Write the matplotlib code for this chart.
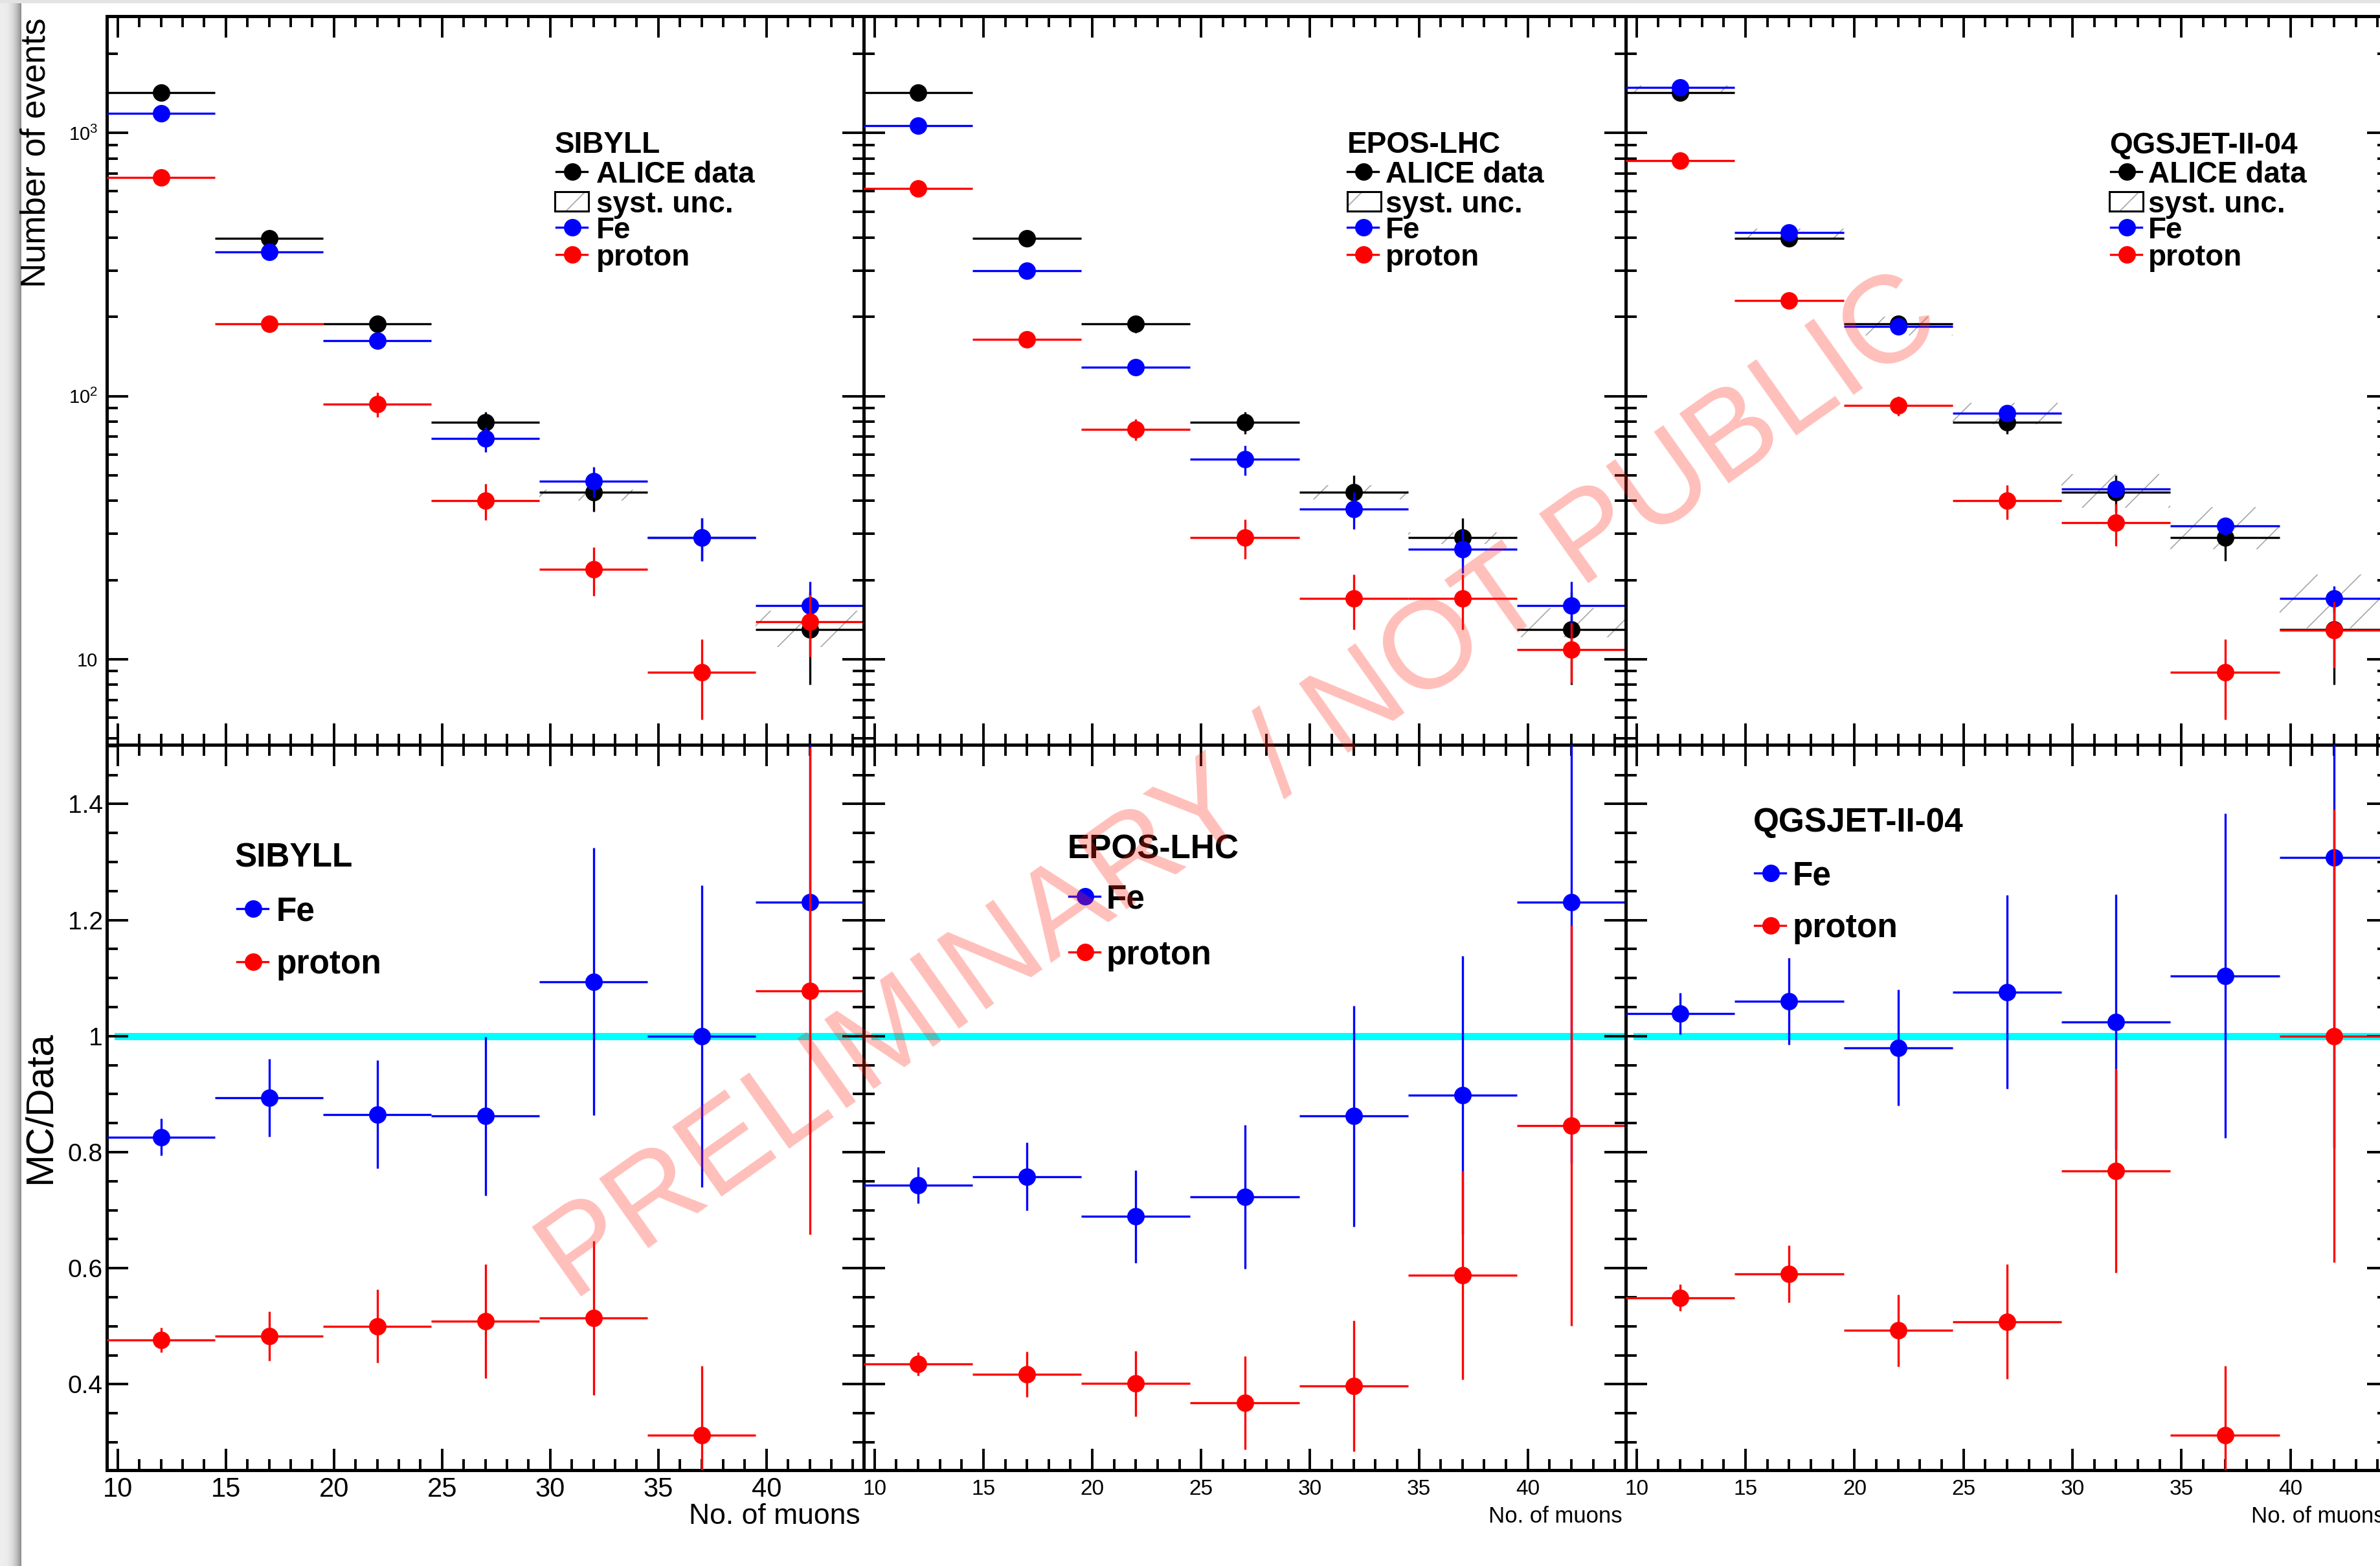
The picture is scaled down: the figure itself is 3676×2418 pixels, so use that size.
import numpy as np
import matplotlib
matplotlib.use('Agg')
import matplotlib.pyplot as plt
from matplotlib.lines import Line2D
from matplotlib.patches import Rectangle
from matplotlib.ticker import MultipleLocator, FixedLocator, FixedFormatter, LogLocator, NullFormatter

plt.rcParams['font.family'] = 'Liberation Sans'
plt.rcParams['mathtext.default'] = 'regular'
plt.rcParams['hatch.linewidth'] = 0.6

W, H, DPI = 3676, 2418, 200
nan = np.nan

# muon multiplicity bins (centres, width 5)
n_mu = [12, 17, 22, 27, 32, 37, 42]
bin_half = 2.5

# ALICE data
alice = [1425, 397, 188, 79.5, 43.2, 29.0, 13.0]
alice_err = [38, 20, 14, 7.7, 6.8, 5.3, 5.0]

# SIBYLL
sibyll_fe = [1183, 352, 162, 68.9, 47.5, 29.0, 16.0]
sibyll_fe_err = [15, 10, 7, 7.5, 6.4, 5.3, 3.7]
sibyll_p = [676, 188, 93, 40.0, 22.0, 8.9, 13.9]
sibyll_p_err = [10, 6, 10, 6.3, 4.6, 3.0, 3.7]
sibyll_syst_lo = [nan, nan, nan, nan, 40.0, nan, 11.1]
sibyll_syst_hi = [nan, nan, nan, nan, 44.0, nan, 15.3]
sibyll_fe_ratio = [0.826, 0.894, 0.865, 0.862, 1.094, 1.0, 1.231]
sibyll_fe_ratio_err = [0.032, 0.067, 0.093, 0.137, 0.23, 0.26, 0.40]
sibyll_p_ratio = [0.476, 0.483, 0.500, 0.509, 0.514, 0.312, 1.078]
sibyll_p_ratio_err = [0.021, 0.042, 0.063, 0.098, 0.133, 0.12, 0.42]

# EPOS-LHC
epos_fe = [1065, 299, 128.5, 57.4, 37.2, 26.2, 16.0]
epos_fe_err = [15, 8, 5, 7.5, 6.0, 5.0, 3.7]
epos_p = [616, 164, 74.8, 29.0, 17.0, 17.0, 10.9]
epos_p_err = [8, 5, 7, 5, 4, 4, 2.8]
epos_syst_lo = [nan, nan, nan, nan, 40.5, 27.4, 12.1]
epos_syst_hi = [nan, nan, nan, nan, 45.8, 30.3, 15.6]
epos_fe_ratio = [0.743, 0.758, 0.689, 0.723, 0.862, 0.898, 1.231]
epos_fe_ratio_err = [0.031, 0.059, 0.080, 0.124, 0.19, 0.24, 0.45]
epos_p_ratio = [0.435, 0.417, 0.401, 0.368, 0.397, 0.588, 0.846]
epos_p_ratio_err = [0.020, 0.039, 0.056, 0.080, 0.113, 0.18, 0.345]

# QGSJET-II-04
qgs_fe = [1485, 417, 184, 86.3, 44.3, 32.1, 17.0]
qgs_fe_err = [15, 10, 6, 4, 3, 2.5, 2]
qgs_p = [783, 231, 92, 40, 33, 8.9, 12.9]
qgs_p_err = [10, 6, 8, 6, 6, 3, 3.6]
qgs_syst_lo = [1415, 393, 170, 78, 37.6, 26.2, 13.1]
qgs_syst_hi = [1510, 433, 200, 94.4, 50.5, 37.8, 21.0]
qgs_fe_ratio = [1.039, 1.060, 0.980, 1.076, 1.024, 1.104, 1.308]
qgs_fe_ratio_err = [0.036, 0.075, 0.10, 0.167, 0.22, 0.28, 0.5]
qgs_p_ratio = [0.549, 0.590, 0.493, 0.508, 0.768, 0.312, 1.0]
qgs_p_ratio_err = [0.023, 0.049, 0.062, 0.099, 0.176, 0.12, 0.39]

models = ['SIBYLL', 'EPOS-LHC', 'QGSJET-II-04']
fe_vals = [sibyll_fe, epos_fe, qgs_fe]
fe_errs = [sibyll_fe_err, epos_fe_err, qgs_fe_err]
p_vals = [sibyll_p, epos_p, qgs_p]
p_errs = [sibyll_p_err, epos_p_err, qgs_p_err]
syst_lo = [sibyll_syst_lo, epos_syst_lo, qgs_syst_lo]
syst_hi = [sibyll_syst_hi, epos_syst_hi, qgs_syst_hi]
fe_ratios = [sibyll_fe_ratio, epos_fe_ratio, qgs_fe_ratio]
fe_ratio_errs = [sibyll_fe_ratio_err, epos_fe_ratio_err, qgs_fe_ratio_err]
p_ratios = [sibyll_p_ratio, epos_p_ratio, qgs_p_ratio]
p_ratio_errs = [sibyll_p_ratio_err, epos_p_ratio_err, qgs_p_ratio_err]

# pad geometry in pixels
pad_left = [165, 1334, 2511]
pad_width = [1169, 1177, 1178]
top_y, top_h = 25, 1125
bot_y, bot_h = 1150, 1120

# legend anchors in pixels: (title x, marker x, text x)
top_leg = [(857, 884, 921), (2081, 2106, 2140), (3258, 3285, 3318)]
top_rows = [220, 265, 311, 351, 393]
bot_leg = [(363, 391, 427), (1649, 1676, 1709), (2708, 2735, 2769)]
bot_rows = [(1320, 1403, 1485), (1307, 1384, 1470), (1266, 1348, 1429)]

fig = plt.figure(figsize=(W / DPI, H / DPI), dpi=DPI)
fig.patch.set_facecolor('white')


def fx(px):
    return px / W


def fy(py):
    return 1 - py / H


def pad_axes(left, top, width, height):
    return fig.add_axes([fx(left), fy(top + height), width / W, height / H])


def style_pad(ax):
    for s in ax.spines.values():
        s.set_linewidth(1.8)
    ax.tick_params(which='both', direction='in', top=True, right=True, width=1.4)
    ax.tick_params(which='major', length=12)
    ax.tick_params(which='minor', length=6)
    ax.set_xlim(9.5, 44.5)
    ax.xaxis.set_major_locator(MultipleLocator(5))
    ax.xaxis.set_minor_locator(MultipleLocator(1))


def draw_points(ax, y, yerr, color, z):
    ax.errorbar(n_mu, y, xerr=bin_half, yerr=yerr, fmt='o', color=color, ms=9.7,
                mew=0, elinewidth=1.2, capsize=0, zorder=z)


def legend_marker(xm, y, color):
    fig.add_artist(Line2D([fx(xm - 25), fx(xm + 23)], [fy(y), fy(y)], color=color, lw=1.2))
    fig.add_artist(Line2D([fx(xm)], [fy(y)], marker='o', ms=9.7, mew=0, color=color))


def legend_text(x, y, s, size):
    cap = 0.72 * size * DPI / 72
    fig.text(fx(x), fy(y + cap / 2), s, fontsize=size, fontweight='bold', va='baseline')


for i, model in enumerate(models):
    # event counts
    ax = pad_axes(pad_left[i], top_y, pad_width[i], top_h)
    style_pad(ax)
    ax.set_yscale('log')
    ax.set_ylim(4.73, 2775)
    ax.yaxis.set_major_locator(FixedLocator([10, 100, 1000]))
    ax.yaxis.set_major_formatter(FixedFormatter(['10', '$10^{2}$', '$10^{3}$']))
    ax.yaxis.set_minor_locator(LogLocator(base=10, subs=np.arange(2, 10), numticks=20))
    ax.yaxis.set_minor_formatter(NullFormatter())
    ax.tick_params(labelbottom=False, labelleft=(i == 0))
    ax.tick_params(axis='y', labelsize=10.5, pad=5)

    for x, lo, hi in zip(n_mu, syst_lo[i], syst_hi[i]):
        if np.isnan(lo):
            continue
        ax.add_patch(Rectangle((x - bin_half, lo), 2 * bin_half, hi - lo, fill=False,
                               hatch='/', edgecolor='0.65', linewidth=0, zorder=1.5))
    draw_points(ax, alice, alice_err, 'black', 2)
    draw_points(ax, fe_vals[i], fe_errs[i], 'blue', 3)
    draw_points(ax, p_vals[i], p_errs[i], 'red', 4)

    tx, mx, lx = top_leg[i]
    legend_text(tx, top_rows[0], model, 16.5)
    legend_marker(mx, top_rows[1], 'black')
    legend_text(lx, top_rows[1], 'ALICE data', 16.5)
    box = (fx(tx), fy(top_rows[2] + 15)), 52 / W, 30 / H
    fig.add_artist(Rectangle(*box, transform=fig.transFigure, fill=False, hatch='/',
                             edgecolor='0.65', linewidth=0))
    fig.add_artist(Rectangle(*box, transform=fig.transFigure, fill=False,
                             edgecolor='black', linewidth=1.1))
    legend_text(lx, top_rows[2], 'syst. unc.', 16.5)
    legend_marker(mx, top_rows[3], 'blue')
    legend_text(lx, top_rows[3], 'Fe', 16.5)
    legend_marker(mx, top_rows[4], 'red')
    legend_text(lx, top_rows[4], 'proton', 16.5)

    # MC / data ratio
    axr = pad_axes(pad_left[i], bot_y, pad_width[i], bot_h)
    style_pad(axr)
    axr.set_ylim(0.252, 1.502)
    axr.yaxis.set_major_locator(MultipleLocator(0.2))
    axr.yaxis.set_minor_locator(MultipleLocator(0.05))
    axr.yaxis.set_major_formatter(plt.FuncFormatter(lambda v, p: '1' if abs(v - 1) < 1e-6 else f'{v:.1f}'))
    axr.tick_params(axis='y', labelleft=(i == 0), labelsize=14, pad=2.2)
    if i == 0:
        axr.tick_params(axis='x', labelsize=15, pad=3.6)
        xt_size = 16
    else:
        axr.tick_params(axis='x', labelsize=12, pad=5)
        xt_size = 12.5
    axr.text(1 - 5 / pad_width[i], -0.064, 'No. of muons', transform=axr.transAxes,
             ha='right', va='center', fontsize=xt_size)

    axr.plot([10, 45], [1, 1], color='cyan', lw=4, zorder=1)
    draw_points(axr, fe_ratios[i], fe_ratio_errs[i], 'blue', 3)
    draw_points(axr, p_ratios[i], p_ratio_errs[i], 'red', 4)

    tx, mx, lx = bot_leg[i]
    r0, r1, r2 = bot_rows[i]
    legend_text(tx, r0, model, 18.5)
    legend_marker(mx, r1, 'blue')
    legend_text(lx, r1, 'Fe', 18.5)
    legend_marker(mx, r2, 'red')
    legend_text(lx, r2, 'proton', 18.5)

fig.text(fx(56), fy(27), 'Number of events', rotation=90, ha='center', va='top', fontsize=19)
fig.text(fx(62), fy(1710), 'MC/Data', rotation=90, ha='center', va='center', fontsize=21.5)

# watermark
fig.text(fx(1916), fy(1219), 'PRELIMINARY / NOT PUBLIC', rotation=35.3, rotation_mode='anchor',
         ha='center', va='center', fontsize=69, color='#ff2a1a', alpha=0.3, zorder=20)

# window shadow on the left edge and thin grey band at the top
shade = np.tile(0.93 - 0.38 * np.linspace(0, 1, 33) ** 3, (H, 1))
fig.figimage(shade, xo=0, yo=0, cmap='gray', vmin=0, vmax=1)
fig.figimage(np.full((5, W), 0.89), xo=0, yo=H - 5, cmap='gray', vmin=0, vmax=1)

fig.savefig('out.png', dpi=DPI)
